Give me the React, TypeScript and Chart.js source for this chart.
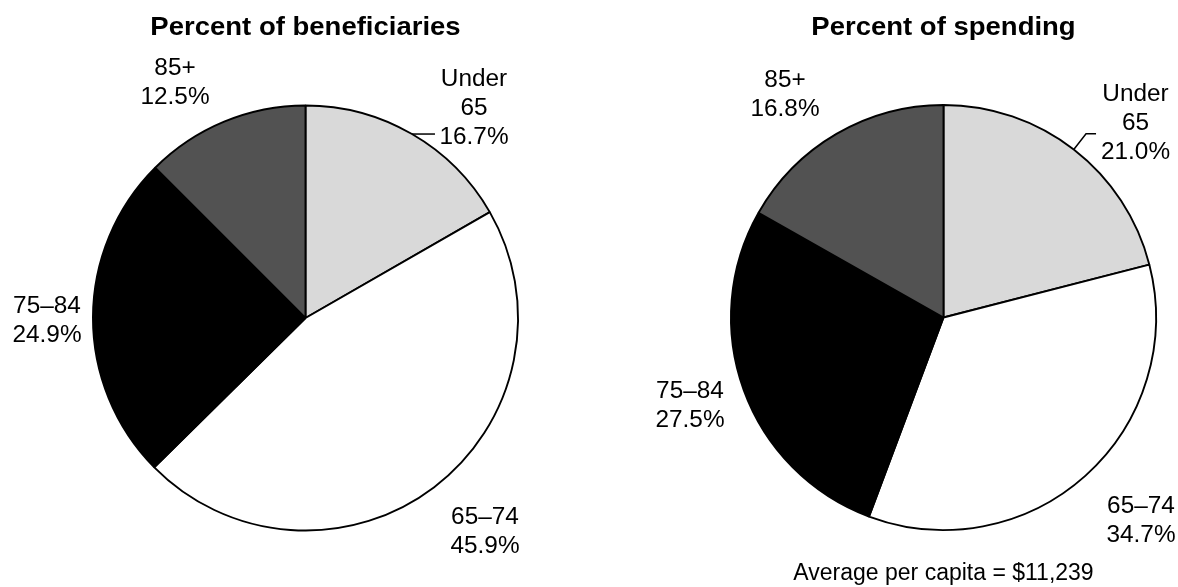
import React, { useEffect, useRef } from "react";
import { Chart, registerables } from "chart.js";

Chart.register(...registerables);

// ---- data ----
const categories = ["Under 65", "65–74", "75–84", "85+"];
const categoryLines = [["Under", "65"], ["65–74"], ["75–84"], ["85+"]];
const beneficiaries = [16.7, 45.9, 24.9, 12.5];
const spending = [21.0, 34.7, 27.5, 16.8];
const sliceColors = ["#d9d9d9", "#ffffff", "#000000", "#525252"];
const titles = ["Percent of beneficiaries", "Percent of spending"];
const footnote = "Average per capita = $11,239";

const FONT = '"Liberation Sans", Arial, Helvetica, sans-serif';
const LINE_H = 29.3;
const TEXT_SHIFT = 2;

type LabelPos = { dx: number; dy: number };
type Leader = { slice: number; radial: number; horizontal: number };

function drawText(ctx: CanvasRenderingContext2D, text: string, x: number, y: number, sx: number) {
  ctx.save();
  ctx.translate(x, y);
  ctx.scale(sx, 1);
  ctx.fillText(text, 0, 0);
  ctx.restore();
}

function makePlugin(values: number[], title: string, labelPos: LabelPos[], leader: Leader, foot: string | null) {
  return {
    id: "pieLabels",
    afterDraw(chart: any) {
      const ctx: CanvasRenderingContext2D = chart.ctx;
      const meta = chart.getDatasetMeta(0);
      const a0 = meta.data[0];
      const cx = a0.x;
      const cy = a0.y;
      const r = a0.outerRadius;
      ctx.save();
      ctx.fillStyle = "#000";
      ctx.textAlign = "center";
      ctx.textBaseline = "middle";
      // title
      ctx.font = `bold 25px ${FONT}`;
      drawText(ctx, title, cx, 28, 1.1);
      // labels
      ctx.font = `23px ${FONT}`;
      values.forEach((v, i) => {
        const lines = [...categoryLines[i], v.toFixed(1) + "%"];
        const p = labelPos[i];
        const bx = cx + p.dx;
        const by = cy + p.dy + TEXT_SHIFT;
        const n = lines.length;
        lines.forEach((t, k) => {
          const y = by + (k - (n - 1) / 2) * LINE_H;
          drawText(ctx, t, bx, y, 1.06);
        });
      });
      // leader line
      const arc = meta.data[leader.slice];
      const mid = (arc.startAngle + arc.endAngle) / 2;
      const px = cx + Math.cos(mid) * r;
      const py = cy + Math.sin(mid) * r;
      const qx = px + Math.cos(mid) * leader.radial;
      const qy = py + Math.sin(mid) * leader.radial;
      ctx.strokeStyle = "#000";
      ctx.lineWidth = 1.5;
      ctx.beginPath();
      ctx.moveTo(px, py);
      ctx.lineTo(qx, qy);
      ctx.lineTo(qx + leader.horizontal, qy);
      ctx.stroke();
      if (foot) {
        ctx.font = `23px ${FONT}`;
        drawText(ctx, foot, cx, 574, 1.0);
      }
      ctx.restore();
    },
  };
}

function PieChart(props: {
  values: number[];
  title: string;
  width: number;
  height: number;
  left: number;
  padding: { left: number; right: number; top: number; bottom: number };
  labelPos: LabelPos[];
  leader: Leader;
  foot: string | null;
}) {
  const ref = useRef<HTMLCanvasElement | null>(null);
  useEffect(() => {
    if (!ref.current) return;
    const chart = new Chart(ref.current, {
      type: "pie",
      data: {
        labels: categories,
        datasets: [
          {
            data: props.values,
            backgroundColor: sliceColors,
            borderColor: "#000000",
            borderWidth: 1.9,
          },
        ],
      },
      options: {
        responsive: false,
        animation: false,
        events: [],
        layout: { padding: props.padding },
        plugins: {
          legend: { display: false },
          title: { display: false },
          tooltip: { enabled: false },
        },
      },
      plugins: [makePlugin(props.values, props.title, props.labelPos, props.leader, props.foot)],
    });
    return () => chart.destroy();
  }, []);
  return (
    <canvas
      ref={ref}
      width={props.width}
      height={props.height}
      style={{ position: "absolute", left: props.left, top: 0, width: props.width, height: props.height }}
    />
  );
}

const leftLabelPos: LabelPos[] = [
  { dx: 168.5, dy: -211.5 },
  { dx: 179.5, dy: 212.5 },
  { dx: -258.5, dy: 1 },
  { dx: -130.5, dy: -236.5 },
];
const rightLabelPos: LabelPos[] = [
  { dx: 192, dy: -196 },
  { dx: 197.5, dy: 201.5 },
  { dx: -253.5, dy: 87 },
  { dx: -158.5, dy: -224.5 },
];

export default function App() {
  return (
    <div style={{ position: "absolute", left: 0, top: 0, width: 1178, height: 587, background: "#fff", overflow: "hidden" }}>
      <PieChart
        values={beneficiaries}
        title={titles[0]}
        width={611}
        height={587}
        left={0}
        padding={{ left: 92, right: 92, top: 104.5, bottom: 55.5 }}
        labelPos={leftLabelPos}
        leader={{ slice: 0, radial: 0, horizontal: 23 }}
        foot={null}
      />
      <PieChart
        values={spending}
        title={titles[1]}
        width={567}
        height={587}
        left={611}
        padding={{ left: 119, right: 21, top: 104, bottom: 56 }}
        labelPos={rightLabelPos}
        leader={{ slice: 0, radial: 20, horizontal: 10 }}
        foot={footnote}
      />
    </div>
  );
}
